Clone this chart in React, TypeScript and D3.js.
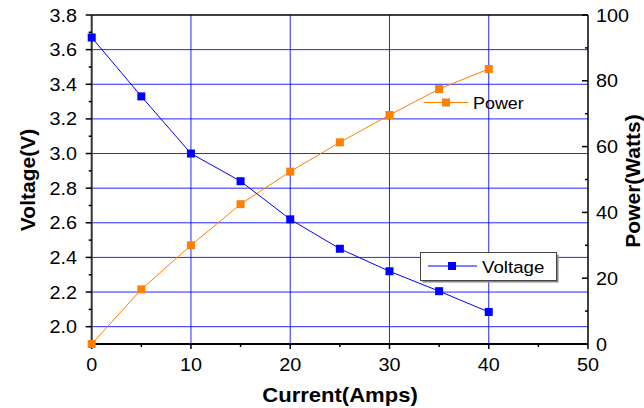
import * as d3 from "d3";

const current = [0, 5, 10, 15, 20, 25, 30, 35, 40];
const voltage = [3.67, 3.33, 3.0, 2.84, 2.62, 2.45, 2.32, 2.205, 2.085];
const power = [0, 16.6, 30.0, 42.5, 52.4, 61.3, 69.6, 77.5, 83.6];

const xTicks = [0, 10, 20, 30, 40, 50];
const xMinor = [5, 15, 25, 35, 45];
const vTicks = [2.0, 2.2, 2.4, 2.6, 2.8, 3.0, 3.2, 3.4, 3.6, 3.8];
const vMinor = [2.1, 2.3, 2.5, 2.7, 2.9, 3.1, 3.3, 3.5, 3.7];
const pTicks = [0, 20, 40, 60, 80, 100];
const pMinor = [10, 30, 50, 70, 90];

const W = 644;
const H = 408;
const FONT = "'Liberation Sans', Arial, Helvetica, sans-serif";
const BLUE = "#0000ff";
const ORANGE = "#ff8000";
const SX = 1.1; // text in the original is a bit wide

function Label({ x, y, size, anchor = "start", bold = false, sx = SX, children }: any) {
  return (
    <text transform={`translate(${x},${y}) scale(${sx},1)`} fontSize={size} textAnchor={anchor} fontWeight={bold ? "bold" : "normal"}>
      {children}
    </text>
  );
}

export default function App() {
  const x = d3.scaleLinear().domain([0, 50]).range([91.7, 588]);
  const yV = d3.scaleLinear().domain([1.9, 3.8]).range([344, 15]);
  const yP = d3.scaleLinear().domain([0, 100]).range([344, 15]);

  const [x0, x1] = x.range();
  const [yb, yt] = yV.range();

  const vPts = current.map((c, i) => [x(c), yV(voltage[i])] as [number, number]);
  const pPts = current.map((c, i) => [x(c), yP(power[i])] as [number, number]);
  const line = d3.line();

  const ms = 8;

  return (
    <svg width={W} height={H} style={{ position: "absolute", left: 0, top: 0, background: "#fff" }} fontFamily={FONT}>
      {/* grid */}
      {vTicks.filter(v => v < 3.8).map(v => (
        <line key={"gh" + v} x1={x0} x2={x1} y1={yV(v)} y2={yV(v)} stroke={BLUE} strokeWidth={1} opacity={0.85} />
      ))}
      {xTicks.filter(t => t > 0 && t < 50).map(t => (
        <line key={"gv" + t} x1={x(t)} x2={x(t)} y1={yb} y2={yt} stroke={BLUE} strokeWidth={1} opacity={0.85} />
      ))}

      {/* frame / axes */}
      <line x1={x0} x2={x1} y1={yt} y2={yt} stroke="#000" strokeWidth={1.5} />
      <line x1={x0} x2={x1} y1={yb} y2={yb} stroke="#000" strokeWidth={2} />
      <line x1={x0} x2={x0} y1={yt} y2={yb} stroke="#333" strokeWidth={2} />
      <line x1={x1} x2={x1} y1={yt} y2={yb} stroke="#000" strokeWidth={1.5} />

      {/* bottom ticks */}
      {xTicks.map(t => (
        <g key={"xt" + t}>
          <line x1={x(t)} x2={x(t)} y1={yb} y2={yb + 5} stroke="#000" strokeWidth={1.5} />
          <Label x={x(t)} y={370.5} size={18} anchor="middle">{t}</Label>
        </g>
      ))}
      {xMinor.map(t => (
        <line key={"xm" + t} x1={x(t)} x2={x(t)} y1={yb} y2={yb + 3} stroke="#000" strokeWidth={1.5} />
      ))}

      {/* left ticks */}
      {vTicks.map(v => (
        <g key={"vt" + v}>
          <line x1={x0 - 6} x2={x0} y1={yV(v)} y2={yV(v)} stroke="#000" strokeWidth={1.5} />
          <Label x={77} y={yV(v) + 6.5} size={18} anchor="end">{v.toFixed(1)}</Label>
        </g>
      ))}
      {vMinor.map(v => (
        <line key={"vm" + v} x1={x0 - 3} x2={x0} y1={yV(v)} y2={yV(v)} stroke="#000" strokeWidth={1.5} />
      ))}

      {/* right ticks */}
      {pTicks.map(p => (
        <g key={"pt" + p}>
          <line x1={x1 - 6} x2={x1} y1={yP(p)} y2={yP(p)} stroke="#000" strokeWidth={1.5} />
          <Label x={596} y={yP(p) + 6.5} size={18}>{p}</Label>
        </g>
      ))}
      {pMinor.map(p => (
        <line key={"pm" + p} x1={x1 - 3} x2={x1} y1={yP(p)} y2={yP(p)} stroke="#000" strokeWidth={1.5} />
      ))}

      {/* axis titles */}
      <Label x={340} y={402} size={21} anchor="middle" bold sx={1.05}>Current(Amps)</Label>
      <text transform={`translate(35,180) rotate(-90)`} fontSize={21} fontWeight="bold" textAnchor="middle">Voltage(V)</text>
      <text transform={`translate(640,181) rotate(-90)`} fontSize={21} fontWeight="bold" textAnchor="middle">Power(Watts)</text>

      {/* series */}
      <path d={line(pPts) ?? ""} fill="none" stroke={ORANGE} strokeWidth={1} />
      {pPts.map(([px, py], i) => (
        <rect key={"pp" + i} x={px - ms / 2} y={py - ms / 2} width={ms} height={ms} fill={ORANGE} />
      ))}
      <path d={line(vPts) ?? ""} fill="none" stroke={BLUE} strokeWidth={1} />
      {vPts.map(([px, py], i) => (
        <rect key={"vp" + i} x={px - ms / 2} y={py - ms / 2} width={ms} height={ms} fill={BLUE} />
      ))}

      {/* Power legend (no box) */}
      <g>
        <line x1={424} x2={468} y1={102.5} y2={102.5} stroke={ORANGE} strokeWidth={1} />
        <rect x={446 - ms / 2} y={102.5 - ms / 2} width={ms} height={ms} fill={ORANGE} />
        <Label x={473} y={108.5} size={16} sx={1.12}>Power</Label>
      </g>

      {/* Voltage legend (boxed) */}
      <g>
        <rect x={422.5} y={254.5} width={136} height={28} fill="#888" />
        <rect x={420.5} y={252.5} width={136} height={28} fill="#fff" stroke="#444" strokeWidth={1} />
        <line x1={428} x2={477} y1={266} y2={266} stroke={BLUE} strokeWidth={1} />
        <rect x={452 - ms / 2} y={266 - ms / 2} width={ms} height={ms} fill={BLUE} />
        <Label x={482} y={272.5} size={17} sx={1.1}>Voltage</Label>
      </g>
    </svg>
  );
}
